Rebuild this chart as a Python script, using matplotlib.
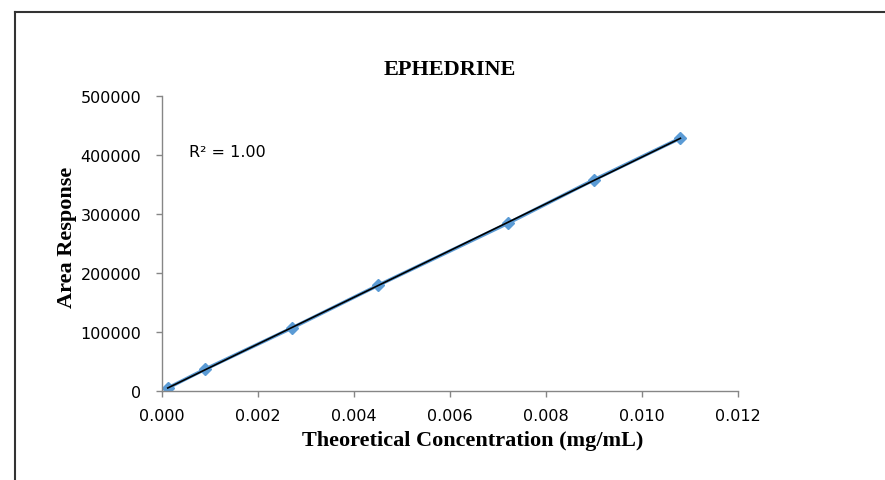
import numpy as np
import matplotlib
matplotlib.use('Agg')
import matplotlib.pyplot as plt
from matplotlib.lines import Line2D

# 标准曲线数据
conc = [0.00012, 0.0009, 0.0027, 0.0045, 0.0072, 0.0090, 0.0108]
area = [5000, 37000, 106500, 179000, 284000, 358000, 428500]

x_ticks = [0.000, 0.002, 0.004, 0.006, 0.008, 0.010, 0.012]
y_ticks = [0, 100000, 200000, 300000, 400000, 500000]

BLUE = '#5B9BD5'
GRAY = '#868686'
SERIF = 'Liberation Serif'
SANS = 'DejaVu Sans'
TICK_FONTSIZE = 11.5

fig = plt.figure(figsize=(8.85, 4.81), dpi=100)
ax = fig.add_axes([162 / 885, 1 - 392 / 481, 576 / 885, 295 / 481])

ax.plot(conc, area, color=BLUE, lw=2.5, marker='D', ms=6, mfc=BLUE, mec=BLUE, zorder=2)

# 线性趋势线
k, b = np.polyfit(conc, area, 1)
fx = np.array([conc[0], conc[-1]])
ax.plot(fx, k * fx + b, color='black', lw=1.2, zorder=3)

ax.set_xlim(0, 0.012)
ax.set_ylim(0, 500000)
ax.set_xticks(x_ticks)
ax.set_yticks(y_ticks)
ax.set_xticklabels([f'{v:.3f}' for v in x_ticks], fontfamily=SANS, fontsize=TICK_FONTSIZE)
ax.set_yticklabels([f'{v}' for v in y_ticks], fontfamily=SANS, fontsize=TICK_FONTSIZE)
ax.tick_params(axis='both', direction='out', length=4.5, width=1, color=GRAY)
ax.tick_params(axis='x', pad=8)
ax.tick_params(axis='y', pad=10.5)

for side in ['top', 'right']:
    ax.spines[side].set_visible(False)
for side in ['left', 'bottom']:
    ax.spines[side].set_color(GRAY)
    ax.spines[side].set_linewidth(1)

ax.text(0.00056, 406000, 'R² = 1.00', fontfamily=SANS, fontsize=TICK_FONTSIZE, va='center')

fig.text(450 / 885, 1 - 70 / 481, 'EPHEDRINE', fontfamily=SERIF, fontweight='bold',
         fontsize=16, ha='center', va='center')
fig.text(473 / 885, 1 - 441 / 481, 'Theoretical Concentration (mg/mL)', fontfamily=SERIF,
         fontweight='bold', fontsize=16, ha='center', va='center')
fig.text(67 / 885, 1 - 237 / 481, 'Area Response', fontfamily=SERIF, fontweight='bold',
         fontsize=16, ha='center', va='center', rotation=90)

# 外框
fig.add_artist(Line2D([15 / 885, 15 / 885], [0, 1 - 13 / 481], color='#333333', lw=1.5,
                      transform=fig.transFigure))
fig.add_artist(Line2D([15 / 885, 1], [1 - 13 / 481, 1 - 13 / 481], color='#333333', lw=1.5,
                      transform=fig.transFigure))

fig.savefig('out.png', dpi=100)
